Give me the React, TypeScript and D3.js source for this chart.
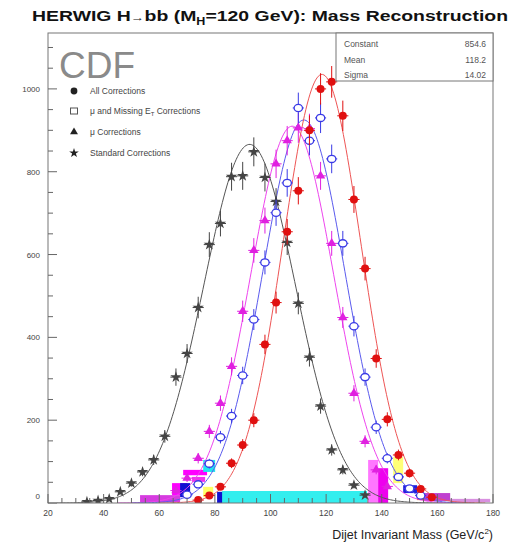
import React from "react";
import * as d3 from "d3";

// ---------- data ----------
const X_TICKS = [20, 40, 60, 80, 100, 120, 140, 160, 180];
const Y_TICKS = [0, 200, 400, 600, 800, 1000];

const allCorrX = [74, 78, 82, 86, 90, 94, 98, 102, 106, 110, 114, 118, 122, 126, 130, 134, 138, 142, 146, 150, 154, 158];
const allCorrY = [7, 18, 39, 96, 140, 200, 383, 484, 655, 754, 900, 1000, 1017, 935, 733, 566, 349, 202, 116, 72, 34, 14];

const muMetX = [70, 74, 78, 82, 86, 90, 94, 98, 102, 106, 110, 114, 118, 122, 126, 130, 134, 138, 142, 146, 150, 154];
const muMetY = [20, 45, 95, 159, 210, 308, 443, 581, 701, 773, 954, 875, 930, 831, 627, 427, 304, 183, 108, 63, 35, 18];

const muX = [66, 70, 74, 78, 82, 86, 90, 94, 98, 102, 106, 110, 114, 118, 122, 126, 130, 134, 138, 142];
const muY = [30, 60, 108, 173, 241, 330, 463, 610, 682, 819, 875, 906, 904, 790, 627, 448, 265, 149, 80, 40];

const stdX = [34, 38, 42, 46, 50, 54, 58, 62, 66, 70, 74, 78, 82, 86, 90, 94, 98, 102, 106, 110, 114, 118, 122, 126, 130, 134];
const stdY = [3, 6, 10, 27, 48, 75, 104, 161, 304, 361, 472, 624, 675, 788, 790, 848, 786, 728, 629, 482, 352, 234, 128, 80, 43, 19];

// gaussian fit parameters: all, mu+MET, mu, standard
const fitConst = [1035, 925, 910, 866];
const fitMean = [118.5, 112, 107.8, 92.5];
const fitSigma = [14, 14.7, 14.9, 16.5];

const statsLabels = ["Constant", "Mean", "Sigma"];
const statsValues = ["854.6", "118.2", "14.02"];

const legendLabels = ["All Corrections", "μ and Missing E", "μ Corrections", "Standard Corrections"];

// filled boxes near the baseline: [x0, x1, y0, y1, colour]
const boxX0 = [53.1, 68.6, 71.8, 64.6, 67.5, 75.8, 75.8, 80.8, 82.6, 135.1, 138.7, 144.1, 147.7, 152.7, 154.9, 164.6];
const boxX1 = [67.5, 77.2, 76.5, 70.0, 71.1, 80.1, 79.4, 83.0, 134.7, 138.7, 142.3, 147.7, 152.7, 154.9, 164.6, 179.0];
const boxY0 = [2, 67, 51, 19, 14, 75, 14, 0, 0, 0, 0, 48, 24, 7, 5, 2];
const boxY1 = [19, 80, 63, 48, 48, 104, 39, 27, 29, 104, 84, 111, 43, 36, 24, 10];
const boxColors = ["#d63ce0", "#ff00ff", "#ee33ee", "#ff00ff", "#1010d0", "#22e4ee", "#ffff66", "#1010d0", "#33eeee", "#ff77ff", "#ee00ee", "#ffff77", "#2020dd", "#ff6a00", "#c040d0", "#d890e0"];

// ---------- layout ----------
const W = 518;
const H = 546;
const L = 48, R = 493, T = 33, B = 503;

const x = d3.scaleLinear().domain([20, 180]).range([L, R]);
const y = d3.scaleLinear().domain([0, 1135]).range([B, T]);

const FONT = "'Liberation Sans', Arial, Helvetica, sans-serif";

type Series = { xs: number[]; ys: number[]; color: string; curve: string; kind: string; fit: number };
const series: Series[] = [
  { xs: stdX, ys: stdY, color: "#444444", curve: "#555555", kind: "star", fit: 3 },
  { xs: muX, ys: muY, color: "#e020e0", curve: "#ee44ee", kind: "tri", fit: 2 },
  { xs: muMetX, ys: muMetY, color: "#3a3ae6", curve: "#5a5aee", kind: "open", fit: 1 },
  { xs: allCorrX, ys: allCorrY, color: "#e01010", curve: "#ee5555", kind: "dot", fit: 0 },
];

function gaussPath(i: number) {
  const m = fitMean[i], s = fitSigma[i], c = fitConst[i];
  const xs = d3.range(Math.max(20, m - 4.2 * s), Math.min(180, m + 4.2 * s), 0.5);
  const line = d3.line<number>().x((v) => x(v)).y((v) => y(c * Math.exp(-0.5 * ((v - m) / s) ** 2))).curve(d3.curveLinear);
  return line(xs) || "";
}

function Marker({ kind, cx, cy, color, size = 1 }: { kind: string; cx: number; cy: number; color: string; size?: number }) {
  if (kind === "dot") return <circle cx={cx} cy={cy} r={4 * size} fill={color} />;
  if (kind === "open") return <ellipse cx={cx} cy={cy} rx={4.2} ry={3.6} fill="white" stroke={color} strokeWidth={1.3} />;
  if (kind === "opensq") return <rect x={cx - 3.5} y={cy - 3} width={7} height={6} fill="white" stroke={color} strokeWidth={1} />;
  if (kind === "tri") {
    const p = d3.symbol().type(d3.symbolTriangle).size(38 * size * size)() || "";
    return <path d={p} transform={`translate(${cx},${cy})`} fill={color} />;
  }
  const p = d3.symbol().type(d3.symbolStar).size(40 * size * size)() || "";
  return <path d={p} transform={`translate(${cx},${cy})`} fill={color} />;
}

export default function App() {
  const xMinor = d3.range(20, 181, 5).filter((v) => v % 20 !== 0);
  const yMinor = d3.range(0, 1135, 50).filter((v) => v % 200 !== 0);
  const binHalf = 2;
  return (
    <svg width={W} height={H} viewBox={`0 0 ${W} ${H}`} style={{ position: "absolute", left: 0, top: 0, background: "white" }}>
      <defs>
        <clipPath id="plotclip">
          <rect x={L} y={T} width={R - L} height={B - T} />
        </clipPath>
      </defs>
      <rect x={0} y={0} width={W} height={H} fill="white" />

      {/* title */}
      <text x={270} y={21} textAnchor="middle" fontFamily={FONT} fontWeight="bold" fontSize={15.5} fill="#111" textLength={476} lengthAdjust="spacingAndGlyphs">
        HERWIG H<tspan fontSize={11} fontWeight="normal">→</tspan>bb (M<tspan fontSize={10} dy={4}>H</tspan><tspan dy={-4}>=120 GeV): Mass Reconstruction</tspan>
      </text>

      {/* baseline filled boxes */}
      <g clipPath="url(#plotclip)">
        {boxX0.map((x0, i) => (
          <rect key={i} x={x(x0)} y={y(boxY1[i])} width={x(boxX1[i]) - x(x0)} height={y(boxY0[i]) - y(boxY1[i])} fill={boxColors[i]} />
        ))}
      </g>

      {/* fit curves */}
      <g clipPath="url(#plotclip)">
        {series.map((s, i) => (
          <path key={i} d={gaussPath(s.fit)} fill="none" stroke={s.curve} strokeWidth={1} />
        ))}
      </g>

      {/* data points */}
      <g clipPath="url(#plotclip)">
        {series.map((s, si) => (
          <g key={si}>
            {s.xs.map((xv, i) => {
              const v = s.ys[i];
              const e = 1.2 * Math.sqrt(v);
              return (
                <g key={i}>
                  <line x1={x(xv)} x2={x(xv)} y1={y(v + e)} y2={y(Math.max(0, v - e))} stroke={s.color} strokeWidth={1} />
                  <line x1={x(xv - binHalf)} x2={x(xv + binHalf)} y1={y(v)} y2={y(v)} stroke={s.color} strokeWidth={1} />
                  <Marker kind={s.kind} cx={x(xv)} cy={y(v)} color={s.color} />
                </g>
              );
            })}
          </g>
        ))}
      </g>

      {/* frame */}
      <rect x={L} y={T} width={R - L} height={B - T} fill="none" stroke="#777" strokeWidth={1} />

      {/* x axis ticks */}
      {X_TICKS.map((t) => (
        <g key={t}>
          <line x1={x(t)} x2={x(t)} y1={B} y2={B - 9} stroke="#666" />
          <text x={x(t)} y={B + 13} textAnchor="middle" fontFamily={FONT} fontSize={8.5} fill="#444">{t}</text>
        </g>
      ))}
      {xMinor.map((t) => (
        <line key={t} x1={x(t)} x2={x(t)} y1={B} y2={B - 5} stroke="#666" />
      ))}

      {/* y axis ticks */}
      {Y_TICKS.map((t) => (
        <g key={t}>
          <line x1={L} x2={L + 9} y1={y(t)} y2={y(t)} stroke="#666" />
          <text x={L - 8} y={t === 0 ? y(t) - 4 : y(t) + 3} textAnchor="end" fontFamily={FONT} fontSize={8} fill="#444">{t}</text>
        </g>
      ))}
      {yMinor.map((t) => (
        <line key={t} x1={L} x2={L + 5} y1={y(t)} y2={y(t)} stroke="#666" />
      ))}

      {/* x axis title */}
      <text x={R} y={539} textAnchor="end" fontFamily={FONT} fontSize={12.5} fill="#222">
        Dijet Invariant Mass (GeV/c<tspan fontSize={8} dy={-5}>2</tspan><tspan dy={5}>)</tspan>
      </text>

      {/* CDF label */}
      <text x={59} y={78} fontFamily={FONT} fontSize={37} fill="#8a8a8a">CDF</text>

      {/* stats box */}
      <rect x={336} y={T} width={R - 336} height={48} fill="white" stroke="#777" strokeWidth={1} />
      {statsLabels.map((lab, i) => (
        <g key={lab}>
          <text x={344} y={47 + i * 15.5} fontFamily={FONT} fontSize={8.5} fill="#555">{lab}</text>
          <text x={486} y={47 + i * 15.5} textAnchor="end" fontFamily={FONT} fontSize={8.5} fill="#555">{statsValues[i]}</text>
        </g>
      ))}

      {/* legend */}
      {[3, 2, 1, 0].map((si, row) => {
        const s = series[si];
        const ly = [91, 111, 132, 153][row];
        return (
          <g key={row}>
            <Marker kind={s.kind === "open" ? "opensq" : s.kind} cx={74} cy={ly} color={s.kind === "open" ? "#555" : "#222"} size={0.85} />
            <text x={90} y={ly + 3} fontFamily={FONT} fontSize={8.5} fill="#444">
              {legendLabels[row]}
              {row === 1 && (
                <>
                  <tspan fontSize={6} dy={2}>T</tspan>
                  <tspan dy={-2}> Corrections</tspan>
                </>
              )}
            </text>
          </g>
        );
      })}
    </svg>
  );
}
